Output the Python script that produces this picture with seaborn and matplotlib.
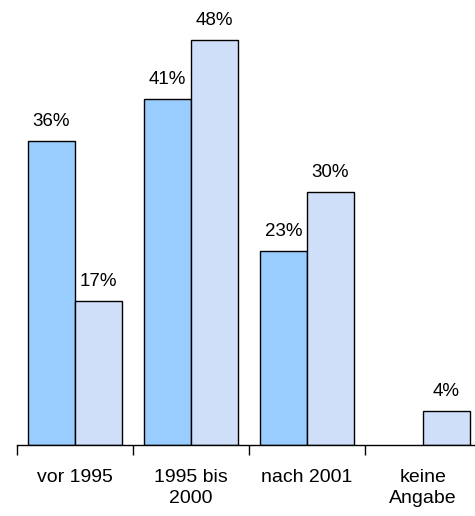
import numpy as np
import pandas as pd
import matplotlib
matplotlib.use("Agg")
import matplotlib.pyplot as plt
import seaborn as sns

categories = ["vor 1995", "1995 bis\n2000", "nach 2001", "keine\nAngabe"]
series_a = [36, 41, 23, np.nan]
series_b = [17, 48, 30, 4]
series_names = ["A", "B"]
colors = ["#99CCFF", "#CFDFFA"]

df = pd.DataFrame({
    "kategorie": categories * 2,
    "wert": series_a + series_b,
    "serie": [series_names[0]] * 4 + [series_names[1]] * 4,
})

sns.set_style("white")
plt.rcParams["font.family"] = ["Liberation Sans", "DejaVu Sans"]
plt.rcParams["text.color"] = "black"
plt.rcParams["xtick.color"] = "black"

fig = plt.figure(figsize=(4.75, 5.16), dpi=100)
ax = fig.add_axes([17 / 475, 71 / 516, 464 / 475, 445 / 516])

sns.barplot(data=df, x="kategorie", y="wert", hue="serie", palette=colors,
            saturation=1, width=0.81, edgecolor="black", linewidth=1,
            ax=ax, legend=False)

for cont in ax.containers:
    labels = ["" if np.isnan(v) else f"{v:.0f}%" for v in cont.datavalues]
    ax.bar_label(cont, labels=labels, padding=8, fontsize=13.5, color="black")

ax.set_xlim(-0.5, 3.5)
ax.set_ylim(0, 52.7)
ax.set_xlabel("")
ax.set_ylabel("")
ax.set_yticks([])
for s in ["top", "right", "left"]:
    ax.spines[s].set_visible(False)
ax.spines["bottom"].set_linewidth(1)
ax.spines["bottom"].set_color("black")
ax.set_xticks(np.arange(-0.5, 4, 1), minor=True)
ax.tick_params(axis="x", which="minor", bottom=True, length=7, width=1,
               direction="out", color="black")
ax.tick_params(axis="x", which="major", bottom=True, length=0, pad=17,
               labelsize=14, labelcolor="black")
for lbl in ax.get_xticklabels():
    lbl.set_linespacing(1.35)

fig.savefig("out.png", dpi=100)
